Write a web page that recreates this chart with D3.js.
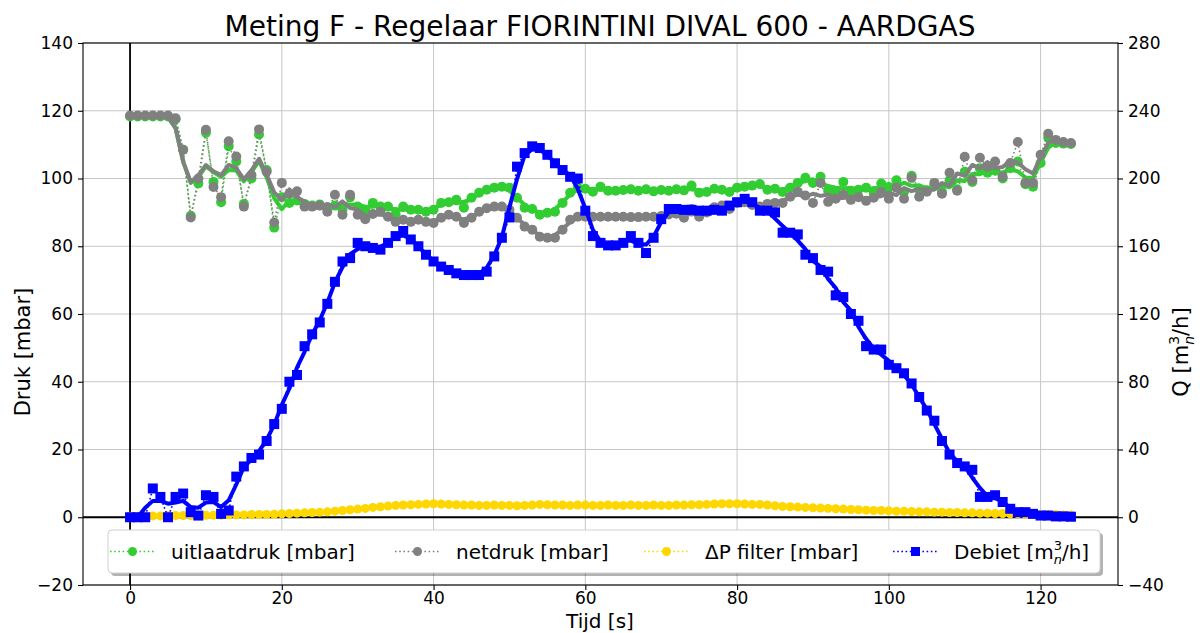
<!DOCTYPE html>
<html>
<head>
<meta charset="utf-8">
<script src="https://cdn.jsdelivr.net/npm/d3@7"></script>
<style>
  body { margin: 0; background: #fff; }
  text { font-family: "DejaVu Sans", sans-serif; fill: #000; }
</style>
</head>
<body>
<svg id="chart" width="1200" height="633"></svg>
<script>
// Measurement F: pressures (left axis, mbar) and flow (right axis, m³n/h) versus time
const tijd = [
  0,1,2,3,4,5,6,7,8,9,10,11,12,13,14,15,16,17,18,19,20,21,22,23,24,25,26,27,28,29,
  30,31,32,33,34,35,36,37,38,39,40,41,42,43,44,45,46,47,48,49,50,51,52,53,54,55,56,57,58,59,
  60,61,62,63,64,65,66,67,68,69,70,71,72,73,74,75,76,77,78,79,80,81,82,83,84,85,86,87,88,89,
  90,91,92,93,94,95,96,97,98,99,100,101,102,103,104,105,106,107,108,109,110,111,112,113,114,115,116,117,118,119,
  120,121,122,123,124
];

const uitlaatdruk = [
  118.3,118.3,118.3,118.3,118.3,118.3,117.5,108.5,89,98.5,
  113.5,99,93,109.5,105,92.5,100,113,102.5,85.5,
  94.5,92.8,93.5,92.5,92,92.3,91.5,92,90.8,94.5,
  91.7,90.5,92.8,91.7,91.7,89.5,91.7,90.8,90.8,90.2,
  90.8,92.8,93,93.7,91.4,94.3,95.8,96.7,97.3,97.6,
  97.3,94.3,91.4,91,89.3,89.9,90.2,92.8,95.8,97.3,
  97,96.1,97.6,96.4,96.4,96.6,96.8,96.4,96.8,96.2,
  96.6,96.4,96.8,96.5,97.9,95.8,96,97,96.7,96,
  97.3,97.6,97.9,98.4,96.7,97,96,97.3,98.7,100.2,
  98.7,100.5,96.7,96.1,99,96.1,96.7,97.3,95.8,98.5,
  97.3,99.5,96,100.8,96.7,96.5,98,96,99.5,96.8,
  102,99,103,101.7,102.5,100,103,105,98.3,97.6,
  104.6,112,110.5,110.3,110.2
];

const netdruk = [
  118.6,118.6,118.6,118.6,118.6,118.6,117.8,108.5,88.5,100,
  114.4,97.5,94.5,111,106.5,91.7,101,114.5,102,87,
  98.7,95.5,96.2,91.7,91.7,92,90.2,95.2,89.3,95.2,
  89.3,88,89.5,90.2,88.7,87.2,87.8,87.2,87.8,87.2,
  86.9,88.4,89.3,88.7,86.9,88.4,90.2,91.2,91.7,91.7,
  90.8,88.4,85.8,84.9,82.8,82.5,82.5,84.9,87.8,88.7,
  88.7,88.7,88.7,88.7,88.7,88.7,88.6,88.6,88.7,88.7,
  88.9,89.4,89.6,88.4,91,88.7,90,91.5,92,91,
  92.8,93,92.2,91.7,92.5,92.8,92.8,94.6,96.1,95,
  92.8,98.7,93.1,94,95.2,93.7,94.5,93.4,94.3,96,
  94,97.3,94,100.2,94.6,96.1,98.7,95.5,101.7,96.4,
  106.4,99.5,106.1,103.5,105,100.5,104.6,110.8,98.7,98.7,
  107,113.2,111.4,110.8,110.5
];

const dpFilter = [
  0.3,0.3,0.4,0.4,0.4,0.5,0.5,0.5,0.5,0.6,
  0.6,0.6,0.6,0.7,0.7,0.7,0.8,0.8,0.8,0.9,
  1.0,1.1,1.2,1.3,1.4,1.5,1.6,1.8,2.0,2.2,
  2.4,2.6,2.9,3.1,3.3,3.5,3.6,3.7,3.8,3.9,
  4.0,3.9,3.8,3.7,3.6,3.6,3.5,3.5,3.6,3.5,
  3.5,3.4,3.5,3.6,3.8,3.7,3.6,3.6,3.5,3.6,
  3.6,3.5,3.5,3.6,3.5,3.5,3.6,3.5,3.5,3.6,
  3.5,3.5,3.6,3.6,3.7,3.7,3.8,3.9,4.0,4.0,
  4.0,3.9,3.8,3.8,3.6,3.4,3.2,3.1,3.0,2.9,
  2.8,2.7,2.6,2.5,2.4,2.3,2.2,2.1,2.0,2.0,
  1.9,1.8,1.8,1.7,1.6,1.6,1.5,1.5,1.4,1.4,
  1.3,1.3,1.2,1.2,1.1,1.1,1.0,1.0,0.9,0.9,
  0.8,0.8,0.8,0.7,0.7
];

const debiet = [
  0,0,0,17,12,0,12,14,3,1,
  13,12,2,4,24,30,35,37,45,55,
  64,80,84,101,108,115,126,139,151,153,
  162,160,159,158,162,166,169,164,160,155,
  151,148,146,144,143,143,143,145,154,165,
  177,207,215,219,218,214,209,205,201,200,
  181,166,162,160.5,160.5,162,166,162,156,165,
  176,182,182,181.5,181.5,181,181,181.5,181,184,
  186,188,186,181,181,180,168,168,167,155,
  153,146,145,131,130,120,116,101,99,99,
  90,88,85,79,71,63,57,45,37,32,
  30,28,12,12,13,9,5,3,3,2,
  1,1,0.5,0.5,0.3
];

const xTicks = [0, 20, 40, 60, 80, 100, 120];
const yLeftTicks = [-20, 0, 20, 40, 60, 80, 100, 120, 140];
const yRightTicks = [-40, 0, 40, 80, 120, 160, 200, 240, 280];

const titel = "Meting F - Regelaar FIORINTINI DIVAL 600 - AARDGAS";

// ---------- layout ----------
const svg = d3.select("#chart");
const plot = { left: 83, right: 1118, top: 43, bottom: 585 };
const labelCentreY = 352;

const x = d3.scaleLinear().domain([-6.2, 130.2]).range([plot.left, plot.right]);
const yL = d3.scaleLinear().domain([-20, 140]).range([plot.bottom, plot.top]);
const yR = d3.scaleLinear().domain([-40, 280]).range([plot.bottom, plot.top]);

svg.append("rect").attr("width", 1200).attr("height", 633).attr("fill", "#fff");

svg.append("defs").append("clipPath").attr("id", "plotClip")
  .append("rect")
  .attr("x", plot.left).attr("y", plot.top)
  .attr("width", plot.right - plot.left).attr("height", plot.bottom - plot.top);

// grid
const grid = svg.append("g").attr("stroke", "#c6c6c6").attr("stroke-width", 1);
grid.selectAll(".gx").data(xTicks).join("line")
  .attr("x1", d => x(d)).attr("x2", d => x(d))
  .attr("y1", plot.top).attr("y2", plot.bottom);
grid.selectAll(".gy").data(yLeftTicks).join("line")
  .attr("x1", plot.left).attr("x2", plot.right)
  .attr("y1", d => yL(d)).attr("y2", d => yL(d));

const body = svg.append("g").attr("clip-path", "url(#plotClip)");

// zero reference lines
body.append("line")
  .attr("x1", plot.left).attr("x2", plot.right)
  .attr("y1", yL(0)).attr("y2", yL(0))
  .attr("stroke", "#000").attr("stroke-width", 1.8);
body.append("line")
  .attr("x1", x(0)).attr("x2", x(0))
  .attr("y1", plot.top).attr("y2", plot.bottom)
  .attr("stroke", "#000").attr("stroke-width", 1.8);

// centred 3-point running mean, drawn as the thick trend line
function runningMean(arr) {
  return arr.map((v, i) => d3.mean(arr.slice(Math.max(0, i - 1), i + 2)));
}

function drawSeries(values, yScale, color, marker, size) {
  const pts = tijd.map((t, i) => [t, values[i]]);
  const smooth = runningMean(values);
  const g = body.append("g");
  const line = d3.line().x(d => x(d[0])).y(d => yScale(d[1]));
  // raw samples, dotted
  g.append("path").datum(pts)
    .attr("d", line)
    .attr("fill", "none").attr("stroke", color)
    .attr("stroke-width", 1.6).attr("stroke-dasharray", "1.6,2.6");
  // trend
  g.append("path").datum(tijd.map((t, i) => [t, smooth[i]]))
    .attr("d", line)
    .attr("fill", "none").attr("stroke", color)
    .attr("stroke-width", 4).attr("stroke-linejoin", "round");
  // markers
  if (marker === "circle") {
    g.selectAll("circle").data(pts).join("circle")
      .attr("cx", d => x(d[0])).attr("cy", d => yScale(d[1]))
      .attr("r", size / 2).attr("fill", color);
  } else {
    g.selectAll("rect").data(pts).join("rect")
      .attr("x", d => x(d[0]) - size / 2).attr("y", d => yScale(d[1]) - size / 2)
      .attr("width", size).attr("height", size).attr("fill", color);
  }
}

const cGreen = "#32cd32", cGray = "#808080", cGold = "#ffd700", cBlue = "#0000ff";

drawSeries(uitlaatdruk, yL, cGreen, "circle", 10);
drawSeries(netdruk, yL, cGray, "circle", 10);
drawSeries(dpFilter, yL, cGold, "circle", 9);
drawSeries(debiet, yR, cBlue, "square", 10);

// frame
svg.append("rect")
  .attr("x", plot.left).attr("y", plot.top)
  .attr("width", plot.right - plot.left).attr("height", plot.bottom - plot.top)
  .attr("fill", "none").attr("stroke", "#000").attr("stroke-width", 1.1);

// axes
function styleAxis(g) {
  g.select(".domain").remove();
  g.selectAll(".tick line").attr("stroke", "#000").attr("stroke-width", 1.1);
  g.selectAll(".tick text").style("font-size", "17px").style("font-family", '"DejaVu Sans", sans-serif');
}
svg.append("g").attr("transform", `translate(0,${plot.bottom})`)
  .call(d3.axisBottom(x).tickValues(xTicks).tickSize(5).tickPadding(2).tickFormat(d3.format("d")))
  .call(styleAxis);
svg.append("g").attr("transform", `translate(${plot.left},0)`)
  .call(d3.axisLeft(yL).tickValues(yLeftTicks).tickSize(5).tickPadding(5).tickFormat(d3.format("d")))
  .call(styleAxis);
svg.append("g").attr("transform", `translate(${plot.right},0)`)
  .call(d3.axisRight(yR).tickValues(yRightTicks).tickSize(5).tickPadding(5).tickFormat(d3.format("d")))
  .call(styleAxis);

// titles
svg.append("text").attr("x", 600).attr("y", 36).attr("text-anchor", "middle")
  .style("font-size", "28px").text(titel);
svg.append("text").attr("x", 600).attr("y", 628).attr("text-anchor", "middle")
  .style("font-size", "20px").text("Tijd [s]");
svg.append("text").attr("transform", `translate(30,${labelCentreY}) rotate(-90)`)
  .attr("text-anchor", "middle").style("font-size", "21px").text("Druk [mbar]");

function unitLabel(sel, prefix, big, small) {
  sel.append("tspan").text(prefix + "[m");
  sel.append("tspan").attr("dy", -big * 0.42).style("font-size", small + "px").text("3");
  sel.append("tspan").attr("dx", -small * 0.64).attr("dy", big * 0.7)
    .style("font-size", small + "px").style("font-style", "italic").text("n");
  sel.append("tspan").attr("dy", -big * 0.28).text("/h]");
}
const qLabel = svg.append("text")
  .attr("transform", `translate(1188,${labelCentreY}) rotate(-90)`)
  .attr("text-anchor", "middle").style("font-size", "21px");
unitLabel(qLabel, "Q ", 21, 14);

// legend
const leg = svg.append("g");
const lx0 = 108, ly0 = 530, lw = 992, lh = 43;
leg.append("rect").attr("x", lx0 + 3).attr("y", ly0 + 3).attr("width", lw).attr("height", lh)
  .attr("rx", 4).attr("fill", "#000").attr("opacity", 0.3);
leg.append("rect").attr("x", lx0).attr("y", ly0).attr("width", lw).attr("height", lh)
  .attr("rx", 4).attr("fill", "#fff").attr("stroke", "#d0d0d0");

const legendItems = [
  { label: "uitlaatdruk [mbar]", color: cGreen, marker: "circle", x: 110 },
  { label: "netdruk [mbar]", color: cGray, marker: "circle", x: 395 },
  { label: "ΔP filter [mbar]", color: cGold, marker: "circle", x: 644 },
  { label: "Debiet", color: cBlue, marker: "square", x: 893 }
];
const ly = ly0 + lh / 2;
legendItems.forEach(it => {
  leg.append("line").attr("x1", it.x).attr("x2", it.x + 45).attr("y1", ly).attr("y2", ly)
    .attr("stroke", it.color).attr("stroke-width", 1.6).attr("stroke-dasharray", "1.6,2.6");
  if (it.marker === "circle") {
    leg.append("circle").attr("cx", it.x + 22.5).attr("cy", ly).attr("r", 4.5).attr("fill", it.color);
  } else {
    leg.append("rect").attr("x", it.x + 22.5 - 4.5).attr("y", ly - 4.5)
      .attr("width", 9).attr("height", 9).attr("fill", it.color);
  }
  const t = leg.append("text").attr("x", it.x + 61).attr("y", ly + 7).style("font-size", "20px");
  if (it.label === "Debiet") unitLabel(t, "Debiet ", 20, 13);
  else t.text(it.label);
});
</script>
</body>
</html>
